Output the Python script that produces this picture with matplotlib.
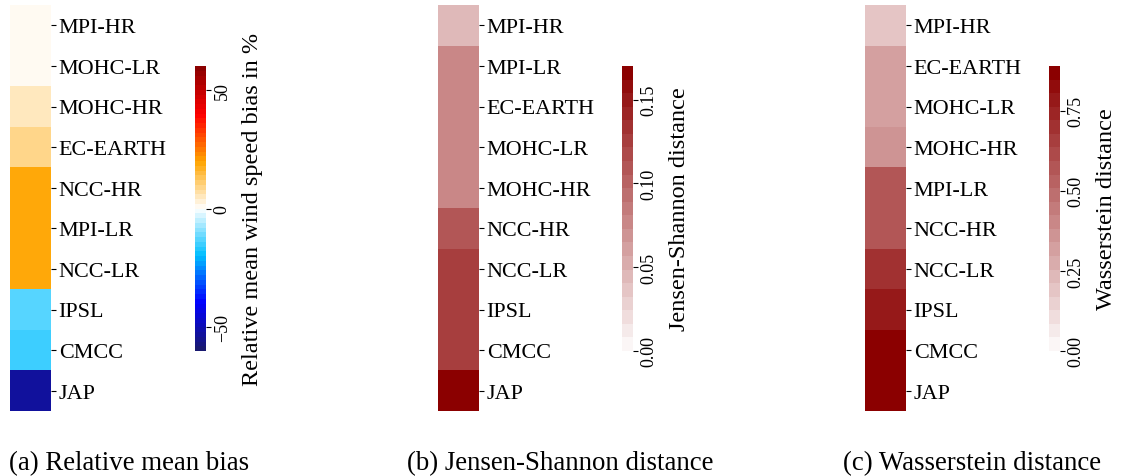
import matplotlib
matplotlib.use("Agg")
import matplotlib.pyplot as plt
from matplotlib.colors import LinearSegmentedColormap
from matplotlib.ticker import FormatStrFormatter
import seaborn as sns
import numpy as np

plt.rcParams['font.family'] = ['Liberation Serif', 'DejaVu Serif']

# relative mean wind speed bias (%) per model
bias_models = ["MPI-HR", "MOHC-LR", "MOHC-HR", "EC-EARTH", "NCC-HR",
               "MPI-LR", "NCC-LR", "IPSL", "CMCC", "JAP"]
bias_values = [1.5, 1.5, 4.6, 9.0, 18.5, 18.5, 18.5, -13.0, -15.5, -53.5]

# Jensen-Shannon distance per model
js_models = ["MPI-HR", "MPI-LR", "EC-EARTH", "MOHC-LR", "MOHC-HR",
             "NCC-HR", "NCC-LR", "IPSL", "CMCC", "JAP"]
js_values = [0.046, 0.073, 0.080, 0.080, 0.080, 0.110, 0.129, 0.129, 0.129, 0.170]

# Wasserstein distance per model
ws_models = ["MPI-HR", "EC-EARTH", "MOHC-LR", "MOHC-HR", "MPI-LR",
             "NCC-HR", "NCC-LR", "IPSL", "CMCC", "JAP"]
ws_values = [0.205, 0.300, 0.330, 0.375, 0.585, 0.585, 0.720, 0.800, 0.890, 0.890]

captions = ["(a) Relative mean bias", "(b) Jensen-Shannon distance",
            "(c) Wasserstein distance"]

bias_cmap = LinearSegmentedColormap.from_list(
    "bias", ["midnightblue", "blue", "deepskyblue", "white",
             "orange", "red", "darkred"], N=60)
dist_cmap = LinearSegmentedColormap.from_list("dist", ["#fbf6f6", "darkred"], N=21)

fig = plt.figure(figsize=(11.32, 4.77), dpi=100)
W, H = 1132.0, 477.0


def box(x0, y0, x1, y1):
    return [x0 / W, 1 - y1 / H, (x1 - x0) / W, (y1 - y0) / H]


panels = [
    (bias_models, bias_values, bias_cmap, -60, 60, [-50, 0, 50], None,
     "Relative mean wind speed bias in %", 10, 195, 129),
    (js_models, js_values, dist_cmap, 0, 0.17, [0, 0.05, 0.10, 0.15], "%.2f",
     "Jensen-Shannon distance", 438, 622, 560),
    (ws_models, ws_values, dist_cmap, 0, 0.89, [0, 0.25, 0.5, 0.75], "%.2f",
     "Wasserstein distance", 865, 1049, 972),
]

for i, (models, vals, cmap, vmin, vmax, cticks, fmt, clabel, hx, cx, capx) in enumerate(panels):
    ax = fig.add_axes(box(hx, 6, hx + 41, 412))
    cax = fig.add_axes(box(cx, 67, cx + 11, 352))
    data = np.array(vals).reshape(-1, 1)
    sns.heatmap(data, ax=ax, cbar_ax=cax, cmap=cmap, vmin=vmin, vmax=vmax,
                xticklabels=False, yticklabels=models)
    ax.yaxis.tick_right()
    ax.tick_params(axis="y", length=3.5, width=0.8, pad=2, labelsize=15.9,
                   labelrotation=0)
    ax.tick_params(axis="x", length=0)

    cbar = ax.collections[0].colorbar
    cbar.set_ticks(cticks)
    if fmt:
        cbar.ax.yaxis.set_major_formatter(FormatStrFormatter(fmt))
    cbar.ax.tick_params(length=3.5, width=0.8, pad=2, labelsize=13)
    for t in cbar.ax.get_yticklabels():
        t.set_rotation(90)
        t.set_va("center")
    cbar.set_label(clabel, fontsize=17.5, labelpad=8)

    fig.text(capx / W, 1 - 464 / H, captions[i], ha="center", va="center",
             fontsize=19.4)

fig.savefig("out.png", dpi=100)
